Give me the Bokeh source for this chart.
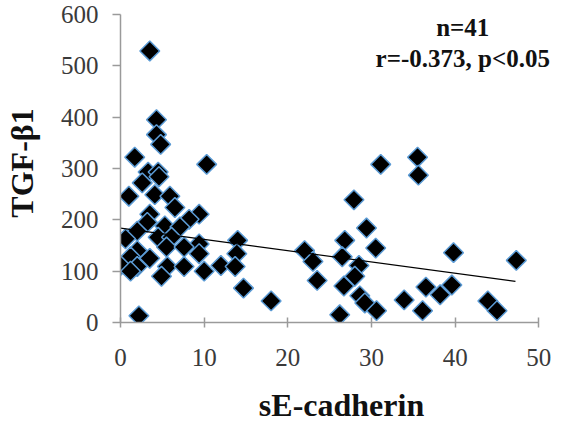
import numpy as np
from bokeh.plotting import figure
from bokeh.models import Range1d, FixedTicker, Label
from bokeh.embed import file_html
from bokeh.resources import INLINE

# data
se_cadherin = [3.5, 4.3, 4.3, 4.8, 1.7, 10.3, 3.3, 4.5, 2.6, 4.6, 1.0, 4.1, 5.9, 6.5,
               3.5, 9.4, 8.2, 3.2, 5.3, 7.1, 2.0, 4.5, 0.6, 6.1, 9.4, 14.0, 2.0, 5.5,
               7.6, 1.2, 3.5, 9.4, 13.9, 0.0, 2.0, 5.6, 7.6, 12.0, 13.7, 1.2, 4.9,
               10.0, 14.7, 18.0, 2.2,
               31.1, 35.5, 35.6, 27.9, 29.4, 26.8, 30.5, 22.0, 23.0, 26.5, 39.8,
               47.3, 28.5, 28.0, 23.5, 26.7, 28.6, 29.2, 30.6, 26.2, 33.9, 36.1,
               36.5, 38.2, 39.6, 43.9, 45.0]
tgf_b1 = [529, 395, 366, 347, 322, 308, 293, 293, 272, 284, 246, 249, 246, 224,
          211, 211, 201, 195, 188, 186, 178, 166, 163, 166, 153, 160, 140, 147,
          147, 128, 125, 134, 134, 111, 109, 109, 109, 111, 109, 100, 90,
          100, 67, 42, 13,
          308, 322, 287, 239, 184, 160, 145, 140, 119, 128, 136,
          121, 111, 90, 82, 71, 52, 38, 23, 15, 44, 23,
          69, 54, 73, 42, 23]
trend_x = [0.0, 47.2]
trend_y = [184, 80]
x_ticks = [0, 10, 20, 30, 40, 50]
y_ticks = [0, 100, 200, 300, 400, 500, 600]
stats_lines = ["n=41", "r=-0.373, p<0.05"]
stats_y = [575, 515]

YS = (322 - 14) / 600.0
p = figure(width=562, height=441, output_backend="svg", toolbar_location=None,
           x_range=Range1d(0, 50 + 24 / 8.5),
           y_range=Range1d(0, 600 + 11 / YS),
           min_border_left=112, min_border_right=0, min_border_top=3,
           min_border_bottom=119)
p.outline_line_color = None
p.xgrid.visible = False
p.ygrid.visible = False
p.background_fill_color = "white"

font = "Liberation Serif"
for ax in (p.xaxis[0], p.yaxis[0]):
    ax.axis_line_color = "#9a9a9a"
    ax.axis_line_width = 1.5
    ax.major_tick_line_color = "#9a9a9a"
    ax.major_tick_line_width = 1.5
    ax.minor_tick_line_color = None
    ax.major_label_text_font = font
    ax.major_label_text_font_size = "25px"
    ax.major_label_text_color = "#3a3a3a"
    ax.axis_label_text_font = font
    ax.axis_label_text_font_style = "bold"
    ax.axis_label_text_font_size = "32px"
    ax.axis_label_text_color = "#111111"

p.xaxis.ticker = FixedTicker(ticks=x_ticks)
p.yaxis.ticker = FixedTicker(ticks=y_ticks)
p.xaxis.bounds = (0, 50)
p.yaxis.bounds = (0, 600)
p.xaxis.major_tick_in = 5
p.xaxis.major_tick_out = 5
p.yaxis.major_tick_in = 0
p.yaxis.major_tick_out = 8
p.xaxis.major_label_standoff = 21
p.yaxis.major_label_standoff = 14
p.xaxis.axis_label = "sE-cadherin"
p.yaxis.axis_label = "TGF-β1"
p.xaxis.axis_label_standoff = 18
p.yaxis.axis_label_standoff = 18

p.scatter(se_cadherin, tgf_b1, marker="square", angle=np.pi / 4, size=14,
          fill_color="black", line_color="#5b9bd5", line_width=1.5)
p.line(trend_x, trend_y, line_color="black", line_width=1.2)

for txt, yy in zip(stats_lines, stats_y):
    p.add_layout(Label(x=40.9, y=yy, text=txt, text_align="center",
                       text_baseline="middle", text_font=font,
                       text_font_style="bold", text_font_size="25px",
                       text_color="#111111"))

open("out.html", "w").write(file_html(p, INLINE))
